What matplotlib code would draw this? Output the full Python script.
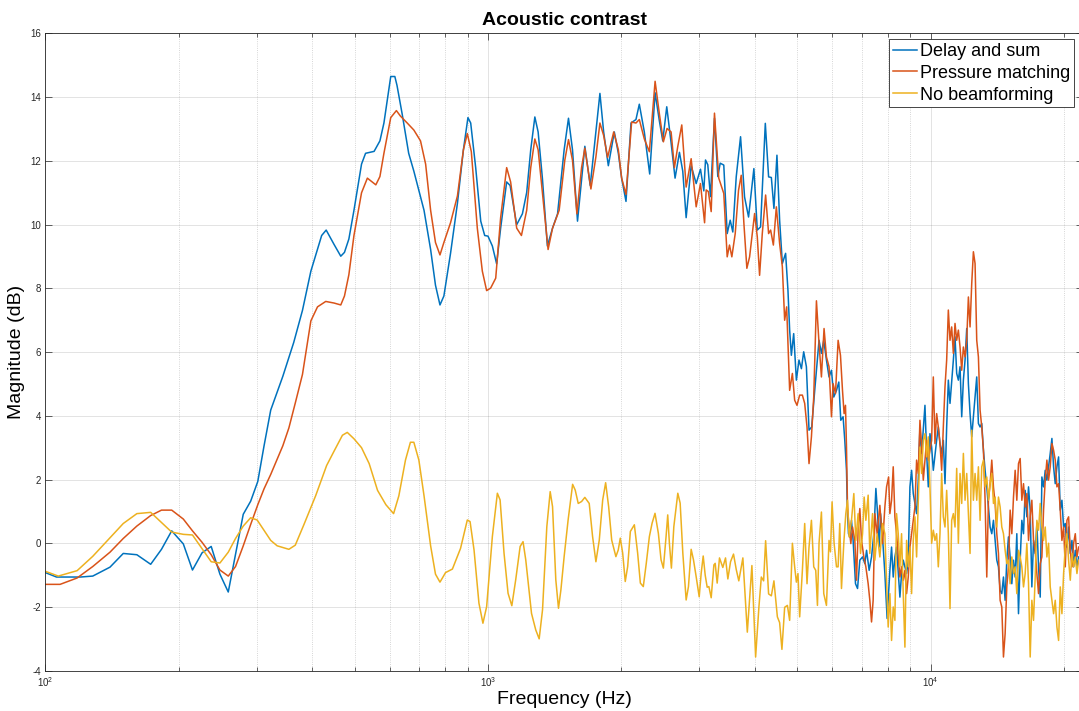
import matplotlib
matplotlib.use('Agg')  # no display
import matplotlib.pyplot as plt
from matplotlib.ticker import LogLocator, MultipleLocator, NullFormatter, NullLocator

# ---- data (frequency in Hz, magnitude in dB) ----

# Delay and sum (blue)
ds_freq = [
    100, 106, 120, 128, 140, 150, 161, 173, 183, 193, 205, 215, 226, 237, 248, 259,
    280, 291, 302, 312, 323, 344, 364, 381, 398, 421, 431, 449, 465, 474, 485, 498,
    518, 529, 553, 570, 582, 603, 616, 623, 640, 662, 680, 717, 742, 761, 779, 795,
    823, 853, 880, 901, 914, 938, 963, 983, 1000, 1023, 1046, 1068, 1102, 1122, 1161,
    1196, 1223, 1249, 1276, 1298, 1327, 1362, 1399, 1436, 1486, 1520, 1552, 1593,
    1655, 1702, 1753, 1790, 1825, 1870, 1929, 1970, 2004, 2050, 2104, 2159, 2197,
    2255, 2319, 2385, 2439, 2482, 2534, 2592, 2646, 2707, 2754, 2803, 2877, 2953,
    3020, 3073, 3100, 3137, 3181, 3248, 3305, 3346, 3409, 3470, 3525, 3573, 3637,
    3720, 3798, 3878, 3987, 4058, 4128, 4231, 4304, 4366, 4425, 4495, 4558, 4623,
    4702, 4760, 4802, 4845, 4904, 4973, 5041, 5105, 5166, 5239, 5311, 5386, 5471,
    5595, 5665, 5734, 5815, 5894, 5969, 6041, 6127, 6201, 6265, 6341, 6397, 6454,
    6488, 6522, 6566, 6624, 6680, 6764, 6836, 6918, 7016, 7101, 7164, 7261, 7352,
    7441, 7520, 7587, 7649, 7705, 7811, 7880, 7973,
    8088, 8159, 8230, 8302, 8374, 8521, 8595, 8670, 8822, 8899, 8977, 9055, 9134,
    9294, 9375, 9457, 9540, 9707, 9792, 9877, 9963, 10050, 10138, 10315, 10405,
    10496, 10588, 10680, 10773, 10867, 10962, 11058, 11252, 11350, 11449, 11549,
    11650, 11752, 11854, 11958, 12062, 12167, 12273, 12380, 12488, 12597, 12707,
    12818, 12930, 13043, 13157, 13272, 13388, 13505, 13622, 13741, 13861, 13982,
    14104, 14227, 14351, 14476, 14602, 14729, 14857, 14987, 15119, 15251, 15384,
    15518, 15653, 15790, 15928, 16067, 16207, 16348, 16491, 16635, 16780, 16926,
    17074, 17223, 17373, 17525, 17678, 17832, 17988, 18145, 18303, 18463, 18624,
    18787, 18951, 19116, 19283, 19451, 19620, 19791, 19964, 20138, 20314, 20491,
    20670, 20850, 21032, 21216, 21401, 21588,
]
ds_db = [
    -0.92, -1.06, -1.06, -1.03, -0.75, -0.32, -0.36, -0.66, -0.19, 0.39, -0.02, -0.84,
    -0.30, -0.10, -0.97, -1.53, 0.91, 1.32, 1.94, 3.06, 4.18, 5.24, 6.30, 7.31, 8.54,
    9.66, 9.83, 9.38, 9.01, 9.13, 9.55, 10.45, 11.90, 12.24, 12.30, 12.63, 13.19,
    14.65, 14.65, 14.37, 13.47, 12.24, 11.68, 10.45, 9.22, 8.10, 7.48, 7.76, 9.10,
    10.67, 12.35, 13.36, 13.19, 11.79, 10.11, 9.66, 9.64, 9.33, 8.77, 9.89, 11.34,
    11.23, 10.00, 10.34, 11.01, 12.35, 13.38, 12.91, 11.46, 9.33, 9.89, 10.34, 12.35,
    13.34, 12.35, 10.11, 12.46, 11.23, 12.91, 14.12, 12.91, 11.85, 12.91, 12.24,
    11.46, 10.73, 13.19, 13.30, 13.78, 12.91, 11.59, 14.14, 13.25, 12.63, 13.70,
    12.57, 11.46, 12.27, 11.68, 10.22, 11.85, 11.29, 11.74, 11.06, 12.03, 11.88,
    10.88, 13.34, 11.51, 11.93, 11.87, 9.72, 10.14, 9.77, 11.50, 12.76, 10.87, 10.24,
    11.76, 9.83, 9.93, 13.18, 11.50, 11.48, 10.51, 12.18, 10.14, 8.78, 9.10, 7.94,
    6.69, 5.90, 6.58, 5.12, 5.75, 5.48, 6.01, 5.54, 3.55, 3.65, 4.80, 6.37, 5.96,
    6.37, 5.75, 5.22, 5.43, 4.59, 4.80, 5.06, 3.86, 3.97, 3.23, 2.29, 0.93, 0.30,
    0.20, 0.72, 0.09, -1.27, -1.42, -0.53, -0.43, -0.64, -0.22, -0.85, -0.43, 0.30,
    1.72, 0.93, -0.12, 0.93, -0.12, -0.95, -2.36,
    -0.85, -0.12, -1.06, -0.43, -0.12, -1.69, -0.95, -0.53, -0.95, -0.53, 1.77,
    2.29, 1.56, 0.93, 1.98, 3.65, 2.82, 4.33, 2.82, 1.77, 3.44, 3.02, 2.29, 3.23,
    3.65, 3.13, 2.82, 3.23, 1.87, 3.65, 5.12, 4.39, 5.75, 6.48, 5.33, 5.12, 5.54,
    3.97, 5.12, 5.75, 6.74, 5.01, 4.07, 3.34, 3.97, 4.59, 5.22, 3.76,
    3.65, 3.76, 2.92, 2.29, 1.77, 1.14, 0.51, 0.30, 0.72, 0.09, -0.53, -0.74, -1.48,
    -1.58, -1.06, -1.79, -0.53, 0.20, -0.43, -1.27, -0.53, -1.06, 0.30, -2.21, -0.53,
    0.72, 0.30, 1.66, 0.83, 1.77, 1.04, -1.37, 0.09, -0.32, 0.62, -0.74, -1.69, 2.08,
    1.77, 2.29, 1.98, 2.40, 2.82, 3.29, 2.40, 1.87, 2.40, 2.71, 1.04, 1.35, 0.51,
    0.62, -0.12, 0.51, -0.32, 0.09, -0.74, -0.22, -0.74, -0.43,
]

# Pressure matching (red)
pm_freq = [
    100, 108, 118, 128, 140, 150, 161, 173, 183, 193, 205, 215, 226, 237, 248, 259,
    269, 280, 291, 302, 312, 323, 344, 355, 367, 381, 398, 412, 430, 449, 465, 474,
    485, 498, 518, 534, 558, 570, 582, 603, 621, 634, 657, 680, 704, 723, 742, 761,
    779, 795, 823, 853, 880, 898, 917, 946, 971, 993, 1014, 1041, 1068, 1102, 1125,
    1161, 1190, 1223, 1249, 1276, 1298, 1327, 1367, 1399, 1448, 1491, 1520, 1552,
    1588, 1627, 1655, 1708, 1753, 1790, 1825, 1863, 1923, 1970, 2004, 2050, 2111,
    2159, 2197, 2255, 2315, 2385, 2439, 2490, 2538, 2592, 2637, 2684, 2740, 2803,
    2877, 2953, 3020, 3085, 3111, 3146, 3193, 3248, 3321, 3409, 3470, 3512, 3555,
    3618, 3681, 3733, 3785, 3844, 3899, 4002, 4058, 4107, 4165, 4238, 4304, 4350,
    4412, 4481, 4558, 4623, 4679, 4728, 4802, 4871, 4929, 4989, 5059, 5131, 5193,
    5256, 5311, 5378, 5443, 5520, 5595, 5665, 5743, 5815, 5894, 5969, 6019, 6095,
    6179, 6255, 6321, 6374, 6420, 6454, 6488, 6541, 6601, 6659, 6740, 6800, 6857,
    6918, 6979, 7064, 7138, 7224, 7287, 7352, 7414, 7480, 7570, 7677, 7786, 7880,
    7950, 8034,
    8088, 8159, 8230, 8302, 8374, 8521, 8595, 8670, 8746, 8822, 8899, 8977, 9055,
    9134, 9214, 9294, 9375, 9457, 9540, 9623, 9792, 9877, 10050, 10138, 10226,
    10315, 10405, 10496, 10588, 10680, 10773, 10867, 10962, 11058, 11154, 11252,
    11350, 11449, 11549, 11650, 11752, 11854, 11958, 12062, 12167, 12273, 12380,
    12488, 12597, 12707, 12818, 12930, 13043, 13157, 13272, 13388, 13505, 13622,
    13741, 13861, 13982, 14104, 14227, 14351, 14476, 14602, 14729, 14857, 14987,
    15119, 15251, 15384, 15518, 15653, 15790, 15928, 16067, 16207, 16348, 16491,
    16635, 16780, 16926, 17074, 17223, 17373, 17525, 17678, 17832, 17988, 18145,
    18303, 18463, 18624, 18787, 18951, 19116, 19283, 19451, 19620, 19791, 19964,
    20138, 20314, 20491, 20670, 20850, 21032, 21216, 21401, 21588,
]
pm_db = [
    -1.29, -1.29, -1.09, -0.73, -0.28, 0.15, 0.54, 0.87, 1.04, 1.04, 0.76, 0.39, 0.03,
    -0.36, -0.84, -1.03, -0.73, -0.08, 0.59, 1.21, 1.71, 2.16, 3.06, 3.62, 4.40, 5.30,
    6.98, 7.42, 7.59, 7.54, 7.48, 7.76, 8.43, 9.66, 11.00, 11.46, 11.25, 11.51, 12.24,
    13.36, 13.58, 13.41, 13.19, 12.97, 12.63, 11.90, 10.45, 9.44, 9.05, 9.44, 10.06,
    10.90, 12.35, 12.86, 12.29, 9.89, 8.54, 7.93, 8.01, 8.32, 10.22, 11.79, 11.34,
    9.89, 9.66, 10.45, 11.79, 12.69, 12.35, 11.01, 9.22, 9.89, 10.45, 12.02, 12.67,
    12.02, 10.34, 11.79, 12.40, 11.12, 12.13, 13.19, 12.80, 12.11, 12.91, 12.35,
    11.46, 10.95, 13.22, 13.19, 13.30, 12.69, 12.29, 14.50, 13.47, 12.60, 13.02,
    12.91, 11.79, 12.46, 13.13, 11.18, 12.07, 10.56, 11.29, 10.06, 11.09, 11.04,
    10.41, 13.50, 11.46, 10.98, 8.99, 9.36, 8.99, 9.72, 11.08, 11.55, 10.04, 8.63,
    8.99, 10.35, 9.62, 8.41, 9.72, 10.93, 9.72, 9.83, 9.36, 10.56, 9.41, 8.68, 7.00,
    7.42, 4.80, 5.33, 4.49, 4.33, 4.65, 4.65, 4.39, 3.65, 2.50, 3.34, 4.59, 7.61,
    6.27, 5.22, 6.74, 5.85, 5.54, 3.97, 5.01, 4.70, 6.37, 5.90, 4.80, 4.07, 4.33,
    3.02, 1.14, 0.51, -0.01, 0.51, 0.09, -1.16, 0.41, 1.09, 0.09, -0.43, -0.74,
    -1.27, -1.79, -2.47, -1.79, 0.93, 0.30, 1.19, -0.01, 1.14, 1.77, 2.08,
    0.93, 1.35, 2.40, 0.83, 0.30, -1.06, -0.74, -1.16, -0.85, -1.58, -1.06, -0.12,
    0.30, 0.72, 1.14, 2.61, 2.19, 3.86, 3.02, 1.98, 3.23, 2.61, 3.23, 5.22, 3.13,
    4.07, 3.65, 3.13, 2.29, 3.65, 4.91, 5.75, 7.32, 6.37, 6.79, 5.96, 6.90, 6.37,
    6.69, 6.16, 5.43, 6.16, 5.85, 6.37, 7.73, 6.79, 8.15, 9.15, 8.78, 6.37, 5.85,
    4.18, 3.65, 2.92, 1.35, -1.06, 1.35, 1.87, 2.61, 1.77, 1.25, 0.30, -0.32, -1.79,
    -2.00, -3.57, -2.84, -1.37, -0.74, 1.04, 0.30, 1.45, 2.29, 1.35, 2.50, 2.66,
    1.35, 1.87, 1.14, 1.56, 0.09, 0.83, 1.35, 0.09, -0.22, -0.95, -1.58, -0.64,
    -0.43, 1.04, 1.98, 2.61, 1.98, 2.40, 3.13, 2.92, 2.61, 1.77, 1.87, 1.04, 0.09,
    0.51, -0.74, 0.72, 0.83, -0.22, -0.74, 0.00, 0.30, -0.43, -0.12,
]

# No beamforming (yellow)
nb_freq = [
    100, 107, 112, 118, 128, 140, 150, 161, 173, 183, 193, 205, 215, 226, 237, 248,
    259, 269, 280, 291, 301, 323, 334, 355, 367, 384, 408, 432, 449, 469, 481, 498,
    518, 539, 563, 588, 612, 629, 651, 668, 680, 698, 717, 742, 761, 779, 802, 831,
    867, 898, 911, 930, 954, 974, 993, 1023, 1050, 1065, 1087, 1110, 1132, 1155,
    1182, 1200, 1217, 1254, 1282, 1305, 1328, 1358, 1382, 1399, 1423, 1443, 1461,
    1486, 1517, 1553, 1574, 1599, 1627, 1655, 1693, 1723, 1753, 1784, 1816, 1844,
    1873, 1903, 1945, 1969, 1990, 2015, 2042, 2068, 2097, 2141, 2178, 2209, 2243,
    2278, 2315, 2348, 2384, 2426, 2460, 2490, 2525, 2547, 2569, 2596, 2629, 2684,
    2717, 2755, 2803, 2837, 2877, 2912, 2953, 3000, 3031, 3063, 3095, 3127, 3155,
    3193, 3238, 3260, 3294, 3334, 3392, 3440, 3482, 3531, 3586, 3637, 3686, 3765,
    3853, 3946, 4023, 4092, 4144, 4194, 4238, 4304, 4366, 4425, 4505, 4558, 4613,
    4679, 4746, 4802, 4871, 4929, 4973, 5015, 5059, 5131, 5193, 5256, 5311, 5378,
    5443, 5500, 5549, 5595, 5665, 5734, 5815, 5894, 5938, 5988, 6051, 6127, 6179,
    6232, 6288, 6364, 6431, 6488, 6541, 6624, 6705, 6775, 6857, 6943, 7016, 7075,
    7138, 7224, 7287, 7391, 7480, 7570, 7677, 7786, 7880, 7950, 8017,
    8088, 8159, 8230, 8302, 8374, 8447, 8521, 8595, 8670, 8746, 8822, 8899, 8977,
    9055, 9134, 9214, 9294, 9375, 9457, 9540, 9623, 9707, 9792, 9877, 9963, 10050,
    10138, 10226, 10315, 10405, 10496, 10588, 10680, 10773, 10867, 10962, 11058,
    11154, 11252, 11350, 11449, 11549, 11650, 11752, 11854, 11958, 12062, 12167,
    12273, 12380, 12488, 12597, 12707, 12818, 12930, 13043, 13157, 13272, 13388,
    13505, 13622, 13741, 13861, 13982, 14104, 14227, 14351, 14476, 14602, 14729,
    14857, 14987, 15119, 15251, 15384, 15518, 15653, 15790, 15928, 16067, 16207,
    16348, 16491, 16635, 16780, 16926, 17074, 17223, 17373, 17525, 17678, 17832,
    17988, 18145, 18303, 18463, 18624, 18787, 18951, 19116, 19283, 19451, 19620,
    19791, 19964, 20138, 20314, 20491, 20670, 20850, 21032, 21216, 21401, 21588,
]
nb_db = [
    -0.88, -1.03, -0.95, -0.86, -0.41, 0.17, 0.62, 0.93, 0.97, 0.65, 0.35, 0.28, 0.26,
    -0.17, -0.58, -0.62, -0.28, 0.15, 0.54, 0.80, 0.73, 0.09, -0.08, -0.19, -0.06,
    0.59, 1.49, 2.44, 2.89, 3.39, 3.48, 3.28, 3.00, 2.50, 1.66, 1.21, 0.93, 1.49,
    2.61, 3.17, 3.17, 2.61, 1.49, -0.08, -0.97, -1.22, -0.92, -0.81,
    -0.16, 0.73, 0.68, -0.21, -1.88, -2.51, -1.99, 0.21, 1.57, 1.36, -0.31, -1.57,
    -1.96, -1.15, -0.10, 0.05, -0.52, -2.20, -2.72, -3.00, -2.09, 0.52, 1.62, 1.15,
    -1.15, -2.04, -1.47, -0.42, 0.73, 1.85, 1.67, 1.25, 1.31, 1.44, 1.25, 0.21,
    -0.58, 0.10, 1.36, 1.90, 1.15, 0.10, -0.42, -0.21, 0.16, -0.31, -1.20, -0.73,
    0.37, 0.58, -0.31, -1.25, -1.36, -0.63, 0.21, 0.63, 0.94, 0.31, -0.52, -0.78,
    0.21, 0.89, 0.00, -0.78, 0.52, 1.57, 1.26, -0.31, -1.78, -1.36, -0.19, -0.52,
    -1.05, -1.68, -0.94, -0.40, -1.00, -1.38, -1.36, -1.71, -0.68, -0.63, -1.25,
    -0.46, -0.76, -0.46, -1.12, -0.58, -0.34, -0.82, -1.18, -0.46, -2.79, -0.70,
    -3.57, -2.01, -1.06, -1.18, 0.08, -1.59, -1.65, -1.18, -2.31, -2.49, -3.33,
    -2.01, -1.95, -2.42, 0.00, -0.74, -1.22, -0.95, -2.31, -0.85, 0.62, -1.27,
    -0.12, 0.72, -0.74, -0.85, -1.95, 0.00, 0.98, -1.58, -1.95, 0.09, -0.27, 1.30,
    0.00, -0.74, -0.74, 0.62, -1.42, 0.00, 0.93, 1.35, 0.20, 0.72, 1.56, 0.09, 0.93,
    -0.32, 0.30, 1.45, 0.72, 1.51, -0.32, 0.93, -0.53, 0.30, -0.43, 0.62, 0.30,
    -1.16, -2.63,
    -1.58, -3.05, -2.00, -2.42, 0.93, 0.30, -0.74, 0.30, -1.58, -3.26, 0.09, -0.74,
    -0.12, -1.58, 0.09, 0.83, -0.43, 1.35, 3.02, 2.19, 3.23, 3.44, 2.71, 3.34, 1.77,
    0.00, 0.41, 0.09, 0.30, -0.74, 0.30, 2.19, 0.83, 0.51, 1.66, 0.30, -2.05, 0.72,
    0.93, 0.51, 2.35, 0.00, 2.19, 1.25, 2.82, 1.35, 2.19, 0.93, -0.32, 3.55, 1.35,
    2.19, 1.35, 2.40,
    0.72, 2.40, 2.61, 1.77, 2.08, 1.35, 1.87, 2.19, 1.25, 1.45, 0.51, 1.45, 1.14,
    0.51, 0.30, -0.22, -0.64, -0.53, -1.27, -0.43, -0.95, -0.74, -1.58, -0.22, -0.43,
    -0.74, -1.37, -0.95, 0.00, -1.27, -3.57, -1.79, -2.42, -1.06, 0.72, 0.41, 1.25,
    0.51, 0.09, 0.51, -0.43, 0.00, -1.37, -1.79, -2.21, -1.79, -2.63, -3.05, -1.37,
    -2.21, -0.95, -0.12, 0.30, -0.53, -1.16, -0.32, -0.74, -0.43, -0.95, -0.53,
]

series_labels = ['Delay and sum', 'Pressure matching', 'No beamforming']
series_colors = ['#0072BD', '#D95319', '#EDB120']

# ---- figure ----
plt.rcParams['font.family'] = ['Liberation Sans', 'DejaVu Sans']
plt.rcParams['axes.unicode_minus'] = False

W, H = 1079, 711
fig = plt.figure(figsize=(W / 100, H / 100), dpi=100)
# the axes box runs a little past the right edge of the picture, as in the reference
ax = fig.add_axes([45.3 / W, 40.3 / H, 1037.4 / W, 637.2 / H])

for fr, db, lab, col in zip([ds_freq, pm_freq, nb_freq], [ds_db, pm_db, nb_db],
                            series_labels, series_colors):
    ax.plot(fr, db, color=col, linewidth=1.1, label=lab)

ax.set_xscale('log')
ax.set_xlim(100, 22050)
ax.set_ylim(-4, 16)
ax.yaxis.set_major_locator(MultipleLocator(2))
ax.yaxis.set_minor_locator(NullLocator())
ax.xaxis.set_major_locator(LogLocator(base=10))
ax.xaxis.set_minor_locator(LogLocator(base=10, subs=range(2, 10)))
ax.xaxis.set_minor_formatter(NullFormatter())

edge = '#262626'
ax.grid(True, which='major', color=edge, alpha=0.15, linewidth=0.6)
ax.grid(True, which='minor', axis='x', color=edge, alpha=0.25, linewidth=0.6, linestyle=':')
ax.set_axisbelow(True)
ax.tick_params(which='both', direction='in', top=True, right=True, colors=edge,
               labelsize=7, width=0.5)
ax.tick_params(which='major', length=5, pad=3)
ax.tick_params(which='minor', length=3)
for sp in ax.spines.values():
    sp.set_color(edge)
    sp.set_linewidth(0.6)

ax.set_title('Acoustic contrast', fontsize=14, fontweight='bold', pad=6)
ax.set_xlabel('Frequency (Hz)', fontsize=14, labelpad=2)
ax.set_ylabel('Magnitude (dB)', fontsize=14, labelpad=4)

leg = ax.legend(loc='upper right', bbox_to_anchor=(1074.3 / W, 1 - 39.3 / H),
                bbox_transform=fig.transFigure, fontsize=13, fancybox=False,
                framealpha=1, edgecolor=edge, borderaxespad=0, borderpad=0.2,
                handlelength=1.33, handletextpad=0.2, labelspacing=0.27)
leg.get_frame().set_linewidth(0.6)

fig.savefig('out.png', dpi=100)
